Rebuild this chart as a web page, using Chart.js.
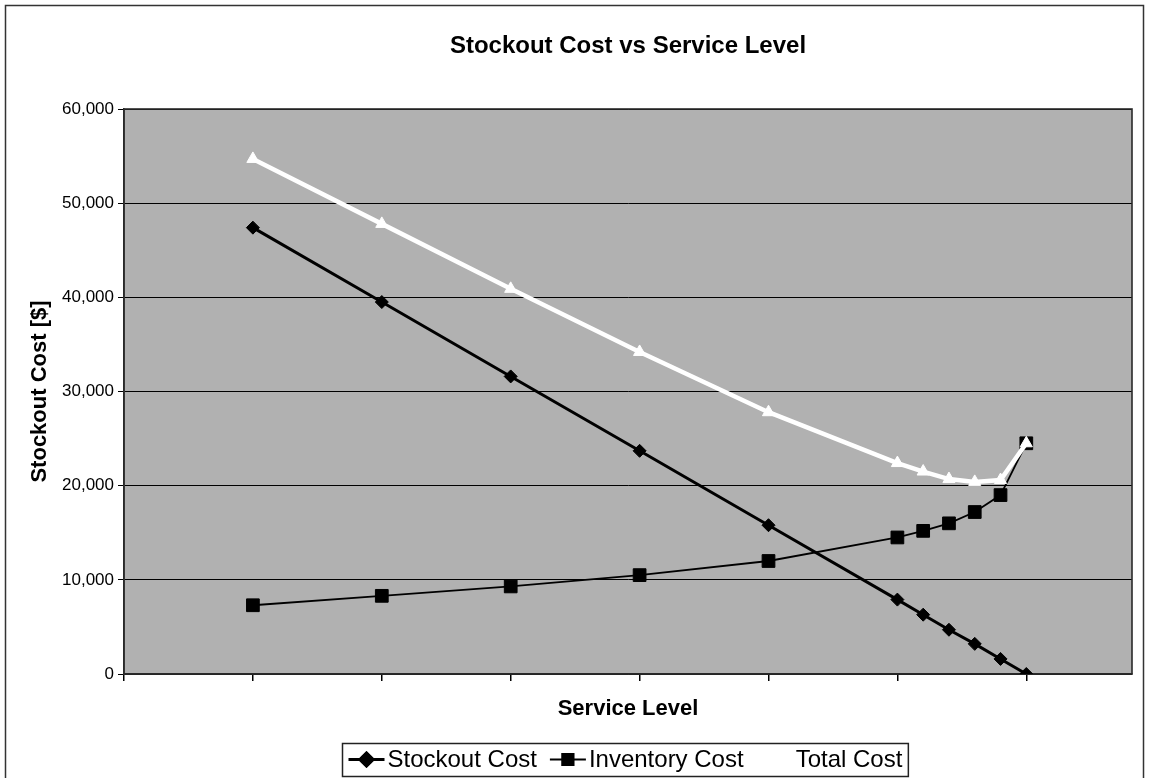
<!DOCTYPE html>
<html>
<head>
<meta charset="utf-8">
<title>Stockout Cost vs Service Level</title>
<script src="https://cdn.jsdelivr.net/npm/chart.js@4.4.1/dist/chart.umd.min.js"></script>
<style>
  html, body { margin: 0; padding: 0; background: #ffffff; }
  canvas { display: block; }
</style>
</head>
<body>
<canvas id="chart" width="1149" height="778"></canvas>
<script>
// Service level (%) on the horizontal axis
const serviceLevel = [70, 75, 80, 85, 90, 95, 96, 97, 98, 99, 100];
// Costs in dollars at each service level
const stockoutCost  = [47400, 39500, 31600, 23700, 15800, 7900, 6300, 4700, 3200, 1600, 0];
const inventoryCost = [7300, 8300, 9300, 10500, 12000, 14500, 15200, 16000, 17200, 19000, 24500];
const totalCost     = [54700, 47800, 40900, 34200, 27800, 22400, 21500, 20700, 20400, 20600, 24500];
// Axis settings
const yTicks = [0, 10000, 20000, 30000, 40000, 50000, 60000];
const xRange = [65, 104.1];
const xStep = 5;
const seriesNames = ['Stockout Cost', 'Inventory Cost', 'Total Cost'];

const FONT = "'Liberation Sans', Arial, Helvetica, sans-serif";
const PLOT_BG = '#b1b1b1';

const toPoints = (ys) => serviceLevel.map((x, i) => ({ x: x, y: ys[i] }));

// Grey plot area, drawn under the grid
const plotBackground = {
  id: 'plotBackground',
  beforeDraw(chart) {
    const { ctx, chartArea: a } = chart;
    ctx.save();
    ctx.fillStyle = PLOT_BG;
    ctx.fillRect(a.left, a.top, a.right - a.left, a.bottom - a.top);
    ctx.restore();
  }
};

// Frame around the plot area and around the whole chart
const frames = {
  id: 'frames',
  beforeDatasetsDraw(chart) {
    const { ctx, chartArea: a } = chart;
    ctx.save();
    ctx.strokeStyle = '#2a2a2a';
    ctx.lineWidth = 1.6;
    ctx.strokeRect(a.left, a.top, a.right - a.left, a.bottom - a.top);
    ctx.restore();
  },
  afterDraw(chart) {
    const { ctx } = chart;
    ctx.save();
    ctx.strokeStyle = '#333333';
    ctx.lineWidth = 1.5;
    ctx.strokeRect(5.5, 5.5, chart.width - 11, chart.height + 10);
    ctx.restore();
  }
};

// Boxed legend with line-and-marker swatches
const boxedLegend = {
  id: 'boxedLegend',
  afterDraw(chart) {
    const { ctx, chartArea: a } = chart;
    const fontSize = 24;
    ctx.save();
    ctx.font = fontSize + 'px ' + FONT;
    const sw = 36, gapSymText = 3, gapItem = 13, padX = 6;
    const items = chart.data.datasets.map(ds => ({ ds, w: ctx.measureText(ds.label).width }));
    let total = padX * 2;
    items.forEach((it, i) => { total += sw + gapSymText + it.w + (i < items.length - 1 ? gapItem : 0); });
    const cx = (a.left + a.right) / 2 - 3;
    const boxTop = 743, boxH = 33;
    const left = Math.round(cx - total / 2) + 0.5;
    const cy = boxTop + boxH / 2;
    ctx.fillStyle = '#ffffff';
    ctx.fillRect(left, boxTop, total, boxH);
    ctx.strokeStyle = '#222222';
    ctx.lineWidth = 1.5;
    ctx.strokeRect(left, boxTop + 0.5, total, boxH);
    let x = left + padX;
    items.forEach((it) => {
      const ds = it.ds;
      ctx.strokeStyle = ds.borderColor;
      ctx.lineWidth = ds.legendLineWidth;
      ctx.beginPath();
      ctx.moveTo(x, cy);
      ctx.lineTo(x + sw, cy);
      ctx.stroke();
      Chart.helpers.drawPoint(ctx, {
        pointStyle: ds.pointStyle,
        radius: ds.legendPointRadius,
        rotation: 0,
        borderWidth: 1
      }, x + sw / 2, cy);
      ctx.fillStyle = ds.pointBackgroundColor;
      ctx.strokeStyle = ds.pointBorderColor;
      ctx.fill();
      ctx.stroke();
      x += sw + gapSymText;
      ctx.fillStyle = '#000000';
      ctx.textBaseline = 'middle';
      ctx.textAlign = 'left';
      ctx.fillText(ds.label, x, cy + 1);
      x += it.w + gapItem;
    });
    ctx.restore();
  }
};

new Chart(document.getElementById('chart'), {
  type: 'scatter',
  data: {
    datasets: [
      {
        label: seriesNames[0],
        data: toPoints(stockoutCost),
        showLine: true,
        borderColor: '#000000',
        borderWidth: 3,
        pointStyle: 'rectRot',
        pointRadius: 6.5,
        pointBackgroundColor: '#000000',
        pointBorderColor: '#000000',
        pointBorderWidth: 1,
        legendLineWidth: 3,
        legendPointRadius: 6.5,
        order: 1
      },
      {
        label: seriesNames[1],
        data: toPoints(inventoryCost),
        showLine: true,
        borderColor: '#000000',
        borderWidth: 1.8,
        pointStyle: 'rect',
        pointRadius: 9,
        pointBackgroundColor: '#000000',
        pointBorderColor: '#000000',
        pointBorderWidth: 1,
        legendLineWidth: 2.2,
        legendPointRadius: 7.5,
        order: 2
      },
      {
        label: seriesNames[2],
        data: toPoints(totalCost),
        showLine: true,
        borderColor: '#ffffff',
        borderWidth: 4.5,
        pointStyle: 'triangle',
        pointRadius: 7,
        pointBackgroundColor: '#ffffff',
        pointBorderColor: '#ffffff',
        pointBorderWidth: 1,
        legendLineWidth: 4,
        legendPointRadius: 7,
        order: 0
      }
    ]
  },
  options: {
    responsive: false,
    animation: false,
    devicePixelRatio: 1,
    layout: { padding: { left: 0, right: 17, top: 0, bottom: 0 } },
    plugins: {
      legend: { display: false },
      tooltip: { enabled: false },
      title: {
        display: true,
        fullSize: false,
        text: 'Stockout Cost vs Service Level',
        color: '#000000',
        font: { family: FONT, size: 24, weight: 'bold', lineHeight: 1.2 },
        padding: { top: 32, bottom: 48.2 }
      }
    },
    scales: {
      x: {
        type: 'linear',
        min: xRange[0],
        max: xRange[1],
        grid: {
          drawOnChartArea: false,
          drawTicks: true,
          tickLength: 7,
          tickColor: '#000000',
          lineWidth: 1.5
        },
        border: { display: true, color: '#2a2a2a', width: 1.6 },
        ticks: {
          stepSize: xStep,
          includeBounds: false,
          callback: () => '',
          font: { family: FONT, size: 1 }
        },
        title: {
          display: true,
          text: 'Service Level',
          color: '#000000',
          font: { family: FONT, size: 22, weight: 'bold', lineHeight: 1.2 },
          padding: { top: 0, bottom: 55.8 }
        },
        afterFit(scale) { scale.height = 104; }
      },
      y: {
        type: 'linear',
        min: yTicks[0],
        max: yTicks[yTicks.length - 1],
        afterBuildTicks(scale) { scale.ticks = yTicks.map(v => ({ value: v })); },
        grid: {
          color: '#000000',
          lineWidth: 1,
          drawTicks: true,
          tickLength: 6,
          tickColor: '#000000'
        },
        border: { display: true, color: '#2a2a2a', width: 1.6 },
        ticks: {
          color: '#000000',
          padding: 4,
          font: { family: FONT, size: 17 },
          callback: (v) => Number(v).toLocaleString('en-US')
        },
        title: {
          display: true,
          text: 'Stockout Cost [$]',
          color: '#000000',
          font: { family: FONT, size: 22, weight: 'bold', lineHeight: 1.2 },
          padding: { top: 26.8, bottom: 0 }
        },
        afterFit(scale) { scale.width = 124; }
      }
    }
  },
  plugins: [plotBackground, frames, boxedLegend]
});
</script>
</body>
</html>
